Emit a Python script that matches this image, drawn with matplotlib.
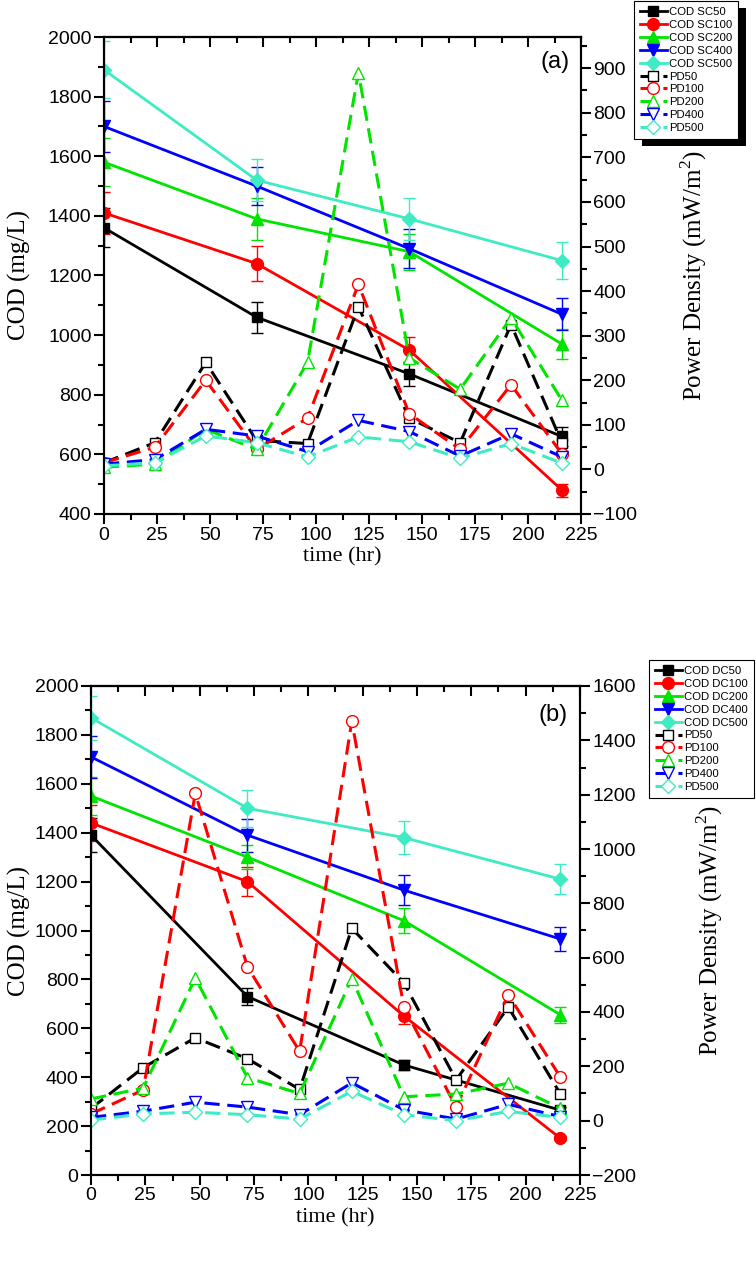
import numpy as np
import matplotlib.pyplot as plt
from matplotlib.ticker import MultipleLocator
from matplotlib.patches import Rectangle

plt.rcParams.update({
    "font.family": "Liberation Sans",
    "mathtext.fontset": "custom",
    "mathtext.rm": "Liberation Serif",
    "axes.linewidth": 1.5,
})

# ---------------- data ----------------
t_cod = [0, 72, 144, 216]
t_pd = [0, 24, 48, 72, 96, 120, 144, 168, 192, 216]

# panel (a): single chamber
cod_sc50 = [1360, 1060, 870, 660]
cod_sc100 = [1410, 1240, 950, 480]
cod_sc200 = [1580, 1390, 1280, 970]
cod_sc400 = [1700, 1500, 1290, 1070]
cod_sc500 = [1890, 1520, 1390, 1250]
err_sc50 = [65, 52, 40, 33]
err_sc100 = [70, 60, 45, 22]
err_sc200 = [80, 70, 60, 50]
err_sc400 = [85, 65, 65, 54]
err_sc500 = [95, 70, 70, 62]

pd50_a = [15, 60, 240, 65, 58, 365, 115, 60, 325, 60]
pd100_a = [15, 50, 200, 45, 115, 415, 125, 45, 190, 35]
pd200_a = [5, 12, 90, 45, 240, 890, 250, 180, 340, 155]
pd400_a = [12, 22, 90, 75, 40, 110, 85, 30, 80, 28]
pd500_a = [8, 15, 75, 60, 28, 73, 62, 25, 58, 14]

# panel (b): double chamber
cod_dc50 = [1390, 730, 450, 265]
cod_dc100 = [1440, 1200, 650, 150]
cod_dc200 = [1550, 1300, 1040, 655]
cod_dc400 = [1710, 1390, 1165, 965]
cod_dc500 = [1870, 1500, 1380, 1210]
err_dc50 = [70, 36, 22, 13]
err_dc100 = [72, 60, 33, 8]
err_dc200 = [78, 50, 50, 33]
err_dc400 = [85, 68, 60, 48]
err_dc500 = [90, 75, 69, 60]

pd50_b = [45, 195, 305, 228, 115, 708, 507, 150, 418, 98]
pd100_b = [25, 113, 1205, 566, 255, 1470, 418, 50, 464, 160]
pd200_b = [80, 120, 525, 158, 100, 523, 88, 98, 138, 45]
pd400_b = [12, 35, 68, 50, 22, 139, 40, 6, 60, 15]
pd500_b = [2, 25, 31, 22, 6, 108, 22, 0, 34, 12]

labels_sc = ["COD SC50", "COD SC100", "COD SC200", "COD SC400", "COD SC500"]
labels_dc = ["COD DC50", "COD DC100", "COD DC200", "COD DC400", "COD DC500"]
labels_pd = ["PD50", "PD100", "PD200", "PD400", "PD500"]

colors = ["black", "#FF0000", "#00E400", "#0000FF", "#3EEBC3"]
fill_markers = ["s", "o", "^", "v", "D"]
sizes = [7, 8.5, 8.5, 8.5, 7.5]

fig = plt.figure(figsize=(7.56, 12.62), dpi=100)
W, H = 756, 1262


def make_axes(x0, x1, y0, y1):
    return fig.add_axes([x0 / W, 1 - y1 / H, (x1 - x0) / W, (y1 - y0) / H])


def style_axes(ax, ax2, ylim, yl_major, y2lim, y2_major):
    ax.set_xlim(0, 225)
    ax.set_ylim(*ylim)
    ax2.set_ylim(*y2lim)
    ax.xaxis.set_major_locator(MultipleLocator(25))
    ax.xaxis.set_minor_locator(MultipleLocator(12.5))
    ax.yaxis.set_major_locator(MultipleLocator(yl_major))
    ax.yaxis.set_minor_locator(MultipleLocator(yl_major / 2))
    ax2.yaxis.set_major_locator(MultipleLocator(y2_major))
    ax2.yaxis.set_minor_locator(MultipleLocator(y2_major / 2))
    for a in (ax, ax2):
        a.tick_params(which="major", length=7, width=1.5, direction="out",
                      labelsize=14, pad=2)
        a.tick_params(which="minor", length=4.5, width=1.5, direction="out")
    top = ax.secondary_xaxis("top")
    top.xaxis.set_major_locator(MultipleLocator(25))
    top.xaxis.set_minor_locator(MultipleLocator(12.5))
    top.tick_params(which="major", direction="in", length=7, width=1.5, labeltop=False)
    top.tick_params(which="minor", direction="in", length=4.5, width=1.5)
    ax.set_xlabel("time (hr)", family="Liberation Serif", fontsize=16, labelpad=3)
    ax.set_ylabel("COD (mg/L)", family="Liberation Serif", fontsize=18)
    ax2.set_ylabel(r"Power Density (mW/m$^2$)", family="Liberation Serif", fontsize=18)


def draw_panel(ax, ax2, cods, errs, pds):
    handles = []
    for c, m, s, y, e in zip(colors, fill_markers, sizes, cods, errs):
        eb = ax.errorbar(t_cod, y, yerr=e, color=c, marker=m, ms=s, lw=2,
                         elinewidth=1, capsize=4, capthick=1)
        handles.append(eb.lines[0])
    for c, m, s, y in zip(colors, fill_markers, sizes, pds):
        ln, = ax2.plot(t_pd, y, color=c, ls=(0, (5, 2.5)), lw=2.2, marker=m,
                       ms=s, mfc="white", mec=c, mew=1)
        handles.append(ln)
    return handles


# ---------------- panel (a) ----------------
ax_a = make_axes(104, 581, 37, 514)
ax_a2 = ax_a.twinx()
h_a = draw_panel(ax_a, ax_a2,
                 [cod_sc50, cod_sc100, cod_sc200, cod_sc400, cod_sc500],
                 [err_sc50, err_sc100, err_sc200, err_sc400, err_sc500],
                 [pd50_a, pd100_a, pd200_a, pd400_a, pd500_a])
style_axes(ax_a, ax_a2, (400, 2000), 200, (-100, 970), 100)
ax_a.yaxis.set_label_coords(-0.153, 0.5)
ax_a2.yaxis.set_label_coords(1.205, 0.5)
ax_a.text(0.945, 0.948, "(a)", transform=ax_a.transAxes, fontsize=17,
          ha="center", va="center")

# ---------------- panel (b) ----------------
ax_b = make_axes(91, 580, 686, 1175)
ax_b2 = ax_b.twinx()
h_b = draw_panel(ax_b, ax_b2,
                 [cod_dc50, cod_dc100, cod_dc200, cod_dc400, cod_dc500],
                 [err_dc50, err_dc100, err_dc200, err_dc400, err_dc500],
                 [pd50_b, pd100_b, pd200_b, pd400_b, pd500_b])
style_axes(ax_b, ax_b2, (0, 2000), 200, (-200, 1600), 200)
ax_b.yaxis.set_label_coords(-0.123, 0.5)
ax_b2.yaxis.set_label_coords(1.235, 0.5)
ax_b.text(0.945, 0.94, "(b)", transform=ax_b.transAxes, fontsize=17,
          ha="center", va="center")

# ---------------- legends ----------------
leg_kw = dict(loc="upper left", borderaxespad=0, fancybox=False, edgecolor="black",
              framealpha=1, fontsize=8.2, handlelength=2.4, handletextpad=0.2,
              labelspacing=0.26, borderpad=0.5)
leg_a = fig.legend(h_a, labels_sc + labels_pd,
                   bbox_to_anchor=(634 / W, 1 - 1 / H), **leg_kw)
leg_b = fig.legend(h_b, labels_dc + labels_pd,
                   bbox_to_anchor=(649 / W, 1 - 660 / H), **leg_kw)
for lg in (leg_a, leg_b):
    lg.get_frame().set_linewidth(0.8)

# black drop shadow behind legend (a)
fig.canvas.draw()
bb = leg_a.get_window_extent()
fig.patches.append(Rectangle((bb.x0 + 8, bb.y0 - 7), bb.width, bb.height,
                             transform=None, facecolor="black", zorder=4,
                             figure=fig))

fig.savefig("out.png", dpi=100, facecolor="white")
